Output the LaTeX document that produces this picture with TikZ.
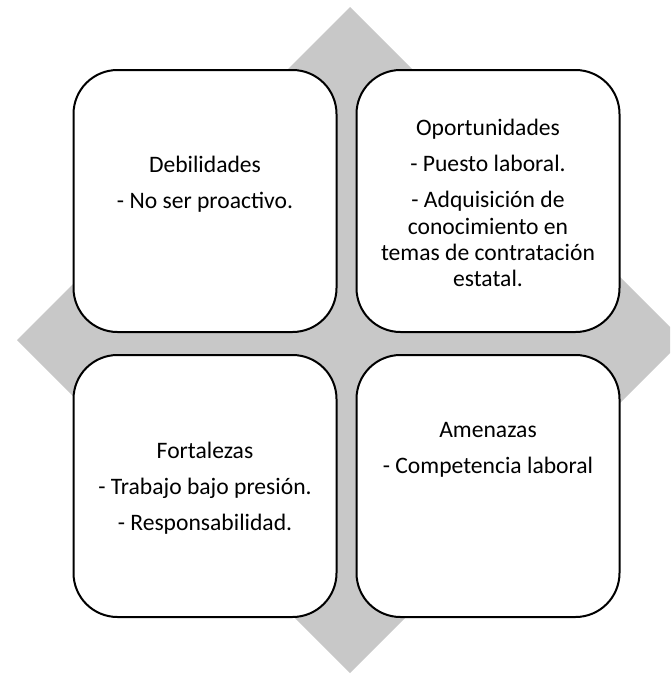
\documentclass[tikz,border=0pt]{standalone}
\usepackage{fontspec}
\setmainfont{Carlito}
\usetikzlibrary{positioning}

\definecolor{diamondgray}{RGB}{200,200,200}

\tikzset{
	fodabox/.style={draw=black, line width=2pt, fill=white, rounded corners=44pt,
		minimum width=263pt, minimum height=262pt, inner sep=0pt},
	fodatext/.style={align=center, anchor=north, inner sep=0pt,
		font=\fontsize{23.6}{26.3}\selectfont},
}

\begin{document}
\begin{tikzpicture}[x=1pt, y=-1pt]

	\useasboundingbox (0,0) rectangle (670,675);
	\clip (0,0) rectangle (670,675);

	\coordinate (T) at (350,7);
	\coordinate (R) at (683,340);
	\coordinate (B) at (350,673);
	\coordinate (L) at (17,340);

	% diamond behind the boxes
	\fill[diamondgray] (T) -- (R) -- (B) -- (L) -- cycle;

	% boxes
	\node[fodabox] (deb) at (205,201) {};
	\node[fodabox, right=18pt of deb] (opo) {};
	\node[fodabox, below=21pt of deb] (fort) {};
	\node[fodabox, below=21pt of opo] (amen) {};

	% texts
	\node[fodatext, yshift=44.7pt] (debtxt) at (deb.center)
		{Debilidades\\[9.7pt] - No ser proactivo.};
	\node[fodatext, yshift=81.7pt] (opotxt) at (opo.center)
		{Oportunidades\\[9.7pt] - Puesto laboral.\\[9.7pt]
		- Adquisición de\\ conocimiento en\\ temas de contratación\\ estatal.};
	\node[fodatext, yshift=43.7pt] (forttxt) at (fort.center)
		{Fortalezas\\[9.7pt] - Trabajo bajo presión.\\[9.7pt] - Responsabilidad.};
	\node[fodatext, yshift=63.7pt] (amentxt) at (amen.center)
		{Amenazas\\[9.7pt] - Competencia laboral};

\end{tikzpicture}
\end{document}
